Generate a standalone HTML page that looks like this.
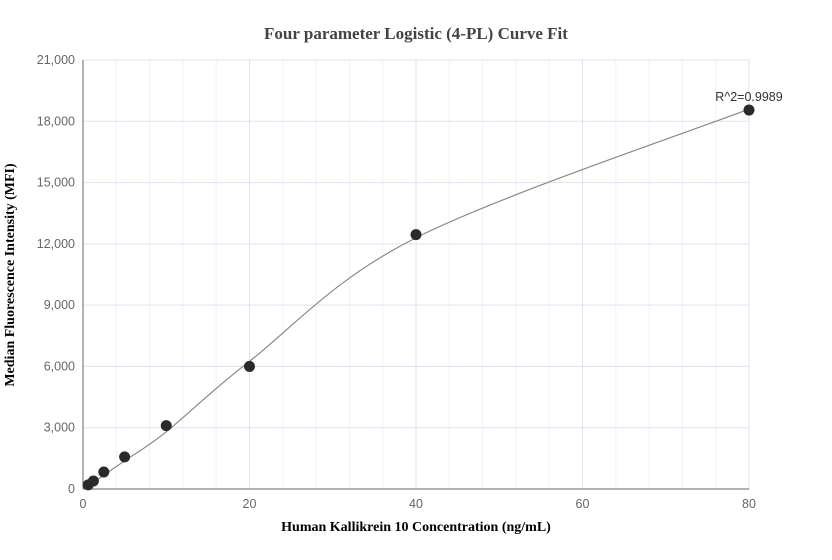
<!DOCTYPE html>
<html><head><meta charset="utf-8"><style>
body{margin:0;background:#fff;}
svg{display:block;font-family:"Liberation Sans",sans-serif;}
</style></head><body>
<svg id="chart" width="832" height="560">
<text x="416" y="39" text-anchor="middle" font-family="Liberation Serif,serif" font-weight="bold" font-size="17" fill="#444">Four parameter Logistic (4-PL) Curve Fit</text>
<text x="416" y="531" text-anchor="middle" font-family="Liberation Serif,serif" font-weight="bold" font-size="14" fill="#000">Human Kallikrein 10 Concentration (ng/mL)</text>
<text transform="translate(14,275) rotate(-90)" text-anchor="middle" font-family="Liberation Serif,serif" font-weight="bold" font-size="14" fill="#000">Median Fluorescence Intensity (MFI)</text>
<g id="grid"></g><g id="axes"></g><g id="curve"></g><g id="points"></g>
<text x="749" y="101" text-anchor="middle" font-size="12.5" fill="#333">R^2=0.9989</text>
</svg>
<script>
const xs=[0.625,1.25,2.5,5,10,20,40,80];
const ys=[200,390,830,1570,3100,6000,12450,18550];
const fitYs=[150,320,680,1380,2800,6250,12300,18600];
const xTicks=[0,20,40,60,80];
const yTicks=[0,3000,6000,9000,12000,15000,18000,21000];
const L=83,R=749,T=60,B=489;
const sx=v=>L+(v-0)/(80-0)*(R-L);
const sy=v=>B-v/21000*(B-T);
const NS="http://www.w3.org/2000/svg";
function mk(p,tag,at){const e=document.createElementNS(NS,tag);for(const k in at)e.setAttribute(k,at[k]);p.appendChild(e);return e;}
const g=document.getElementById('grid'),ax=document.getElementById('axes');
for(let v=4;v<=80;v+=4){const l=mk(g,'line',{x1:sx(v),x2:sx(v),y1:T,y2:B,stroke:v%20===0?'#dde3ee':'#eef1f7','stroke-width':1});

}
yTicks.forEach(v=>{if(v>0){const l=mk(g,'line',{x1:L,x2:R,y1:sy(v),y2:sy(v),stroke:'#dde3ee'});

}
const t=mk(ax,'text',{x:L-8,y:sy(v)+4,'text-anchor':'end','font-size':12.5,fill:'#666'});t.textContent=v.toLocaleString('en-US');

});
xTicks.forEach(v=>{const t=mk(ax,'text',{x:sx(v),y:B+19,'text-anchor':'middle','font-size':12.5,fill:'#666'});t.textContent=v;

});
const xa=mk(ax,'line',{x1:L,x2:R,y1:B,y2:B,stroke:'#666'});


const ya=mk(ax,'line',{x1:L,x2:L,y1:T,y2:B,stroke:'#666'});


// Catmull-Rom through fitted values in pixel space
const P=xs.map((x,i)=>[sx(x),sy(fitYs[i])]);
let dStr='M'+P[0][0]+','+P[0][1];
for(let i=0;i<P.length-1;i++){
 const p0=P[Math.max(0,i-1)],p1=P[i],p2=P[i+1],p3=P[Math.min(P.length-1,i+2)];
 const c1=[p1[0]+(p2[0]-p0[0])/6,p1[1]+(p2[1]-p0[1])/6];
 const c2=[p2[0]-(p3[0]-p1[0])/6,p2[1]-(p3[1]-p1[1])/6];
 dStr+=' C'+c1.join(',')+' '+c2.join(',')+' '+p2.join(',');
}
const pl=mk(document.getElementById('curve'),'path',{d:dStr,fill:'none',stroke:'#888','stroke-width':1.2});


const pg=document.getElementById('points');
xs.forEach((x,i)=>{const p=mk(pg,'circle',{cx:sx(x),cy:sy(ys[i]),r:5.5,fill:'#2a2a2a'});

});
</script>
</body></html>
